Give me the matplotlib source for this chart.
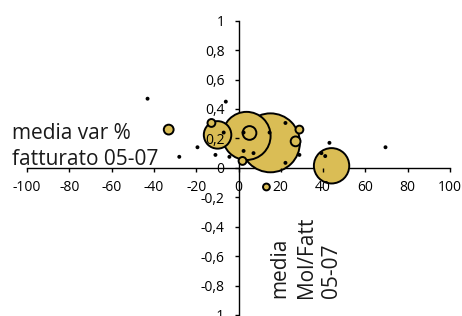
import matplotlib
matplotlib.use("Agg")
import matplotlib.pyplot as plt
from matplotlib.ticker import FuncFormatter

plt.rcParams['font.family'] = ['Open Sans', 'DejaVu Sans']

# x: media var % fatturato 05-07, y: media Mol/Fatt 05-07, size: bubble weight
var_fatturato = [15.1, 3.8, 44.0, -9.9, 5.2, -33.0, 27.0, -12.8, 28.8, 1.9, 13.2,
                 -43.0, -6.0, -7.0, -19.4, -28.0, -10.9, -4.3, 2.4, 2.4, 7.1,
                 14.7, 22.2, 22.2, 28.8, 43.0, 39.2, 41.0, 69.5]
mol_fatt = [0.17, 0.217, 0.014, 0.224, 0.237, 0.26, 0.18, 0.305, 0.26, 0.047, -0.13,
            0.47, 0.45, 0.24, 0.14, 0.075, 0.088, 0.075, 0.24, 0.115, 0.10,
            0.24, 0.305, 0.034, 0.088, 0.17, 0.10, 0.08, 0.14]
peso = [900, 600, 324, 196, 49, 25, 25, 16, 16, 16, 12,
        1, 1, 1, 1, 1, 1, 1, 1, 1, 1,
        1, 1, 1, 1, 1, 1, 1, 1]

x_ticks = [-100, -80, -60, -40, -20, 0, 20, 40, 60, 80, 100]
y_ticks = [-1, -0.8, -0.6, -0.4, -0.2, 0, 0.2, 0.4, 0.6, 0.8, 1]

fig = plt.figure(figsize=(4.62, 3.16), dpi=100)
ax = fig.add_axes([27/462, 1/316, 423/462, 294.3/316])

order = sorted(range(len(peso)), key=lambda i: -peso[i])
xs = [var_fatturato[i] for i in order]
ys = [mol_fatt[i] for i in order]
ss = [peso[i] * 2.0 for i in order]
ax.scatter(xs, ys, s=ss, c='#DABD55', edgecolors='black', linewidths=1.4, zorder=1)

ax.set_xlim(-100, 100)
ax.set_ylim(-1, 1)
ax.set_xticks(x_ticks)
ax.set_yticks(y_ticks)

def fmt(v, pos):
    s = ('%.1f' % v).rstrip('0').rstrip('.')
    if s == '-0':
        s = '0'
    return s.replace('.', ',')

ax.xaxis.set_major_formatter(FuncFormatter(fmt))
ax.yaxis.set_major_formatter(FuncFormatter(fmt))

for side in ('top', 'right'):
    ax.spines[side].set_visible(False)
ax.spines['left'].set_position(('data', 0))
ax.spines['bottom'].set_position(('data', 0))
for side in ('left', 'bottom'):
    ax.spines[side].set_zorder(0.5)
    ax.spines[side].set_linewidth(1.0)
ax.tick_params(axis='both', direction='out', length=3, width=1.0, labelsize=10, colors='black')
ax.tick_params(axis='x', pad=6)
ax.tick_params(axis='y', pad=7)
ax.patch.set_visible(False)

fig.text(12/462, 146/316, 'media var %\nfatturato 05-07', fontsize=15,
         ha='left', va='bottom', linespacing=1.3, color='#1a1a1a')
fig.text(306/462, 18/316, 'media\nMol/Fatt\n05-07', fontsize=15, rotation=90,
         ha='center', va='bottom', multialignment='left', linespacing=1.3, color='#1a1a1a')

fig.savefig('out.png', dpi=100)
